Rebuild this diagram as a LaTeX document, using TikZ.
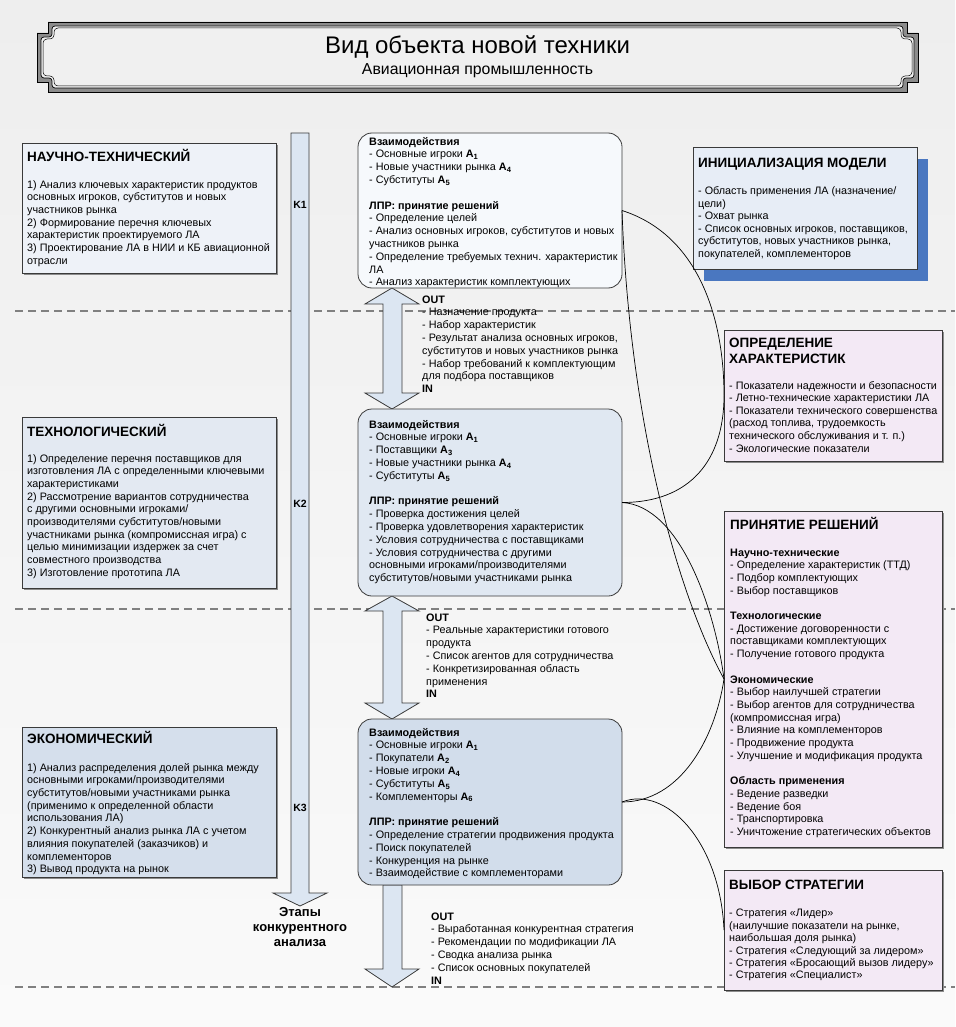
\documentclass[tikz,border=0pt]{standalone}
\usepackage{fontspec}
\setmainfont{Liberation Sans}
\usetikzlibrary{shadows}
\definecolor{bordc}{HTML}{3A3A3A}
\definecolor{lbA}{HTML}{EEF2F8}
\definecolor{lbB}{HTML}{E3E9F2}
\definecolor{lbC}{HTML}{D5DFEC}
\definecolor{mbA}{HTML}{F6F9FC}
\definecolor{mbB}{HTML}{E0E8F2}
\definecolor{mbC}{HTML}{D2DDEB}
\definecolor{arrfill}{HTML}{DCE6F2}
\definecolor{initfill}{HTML}{E7EDF6}
\definecolor{initshadow}{HTML}{4A77C0}
\definecolor{pinkfill}{HTML}{F3E9F5}
\definecolor{dashc}{HTML}{808080}
\definecolor{bandc}{HTML}{8C8C8C}
\definecolor{bgtop}{HTML}{EEEEEE}
\definecolor{bgbot}{HTML}{FAFAFA}
\definecolor{framebg}{HTML}{F0F0F0}
\tikzset{
  boxshape/.style={draw=bordc, line width=0.8pt, inner sep=0pt, outer sep=0pt, anchor=north west},
  lshadow/.style={drop shadow={shadow xshift=2pt, shadow yshift=-2pt, fill=black!45, opacity=1}},
  body/.style={inner sep=0pt, anchor=north west, align=left, font=\fontsize{10.8}{12.7}\selectfont},
  bodyB/.style={inner sep=0pt, anchor=north west, align=left, font=\fontsize{10.8}{12.8}\selectfont},
  head/.style={inner sep=0pt, anchor=base west, font=\bfseries\fontsize{13.5}{16}\selectfont},
  klabel/.style={inner sep=0pt, font=\bfseries\fontsize{10.5}{12}\selectfont},
  conn/.style={draw=black, line width=0.7pt},
  sepline/.style={draw=dashc, line width=1.3pt, dash pattern=on 8pt off 5pt},
  bigarrow/.style={fill=arrfill, draw=bordc, line width=0.8pt, line join=miter},
}
\newcommand{\Ab}[1]{\textbf{A\textsubscript{#1}}}
\begin{document}
\begin{tikzpicture}[x=1pt,y=-1pt]
\useasboundingbox (0,0) rectangle (955,1027);
\shade[top color=bgtop, bottom color=bgbot] (0,0) rectangle (955,1027);

% separators
\draw[sepline] (15,311) -- (955,311);
\draw[sepline] (15,609) -- (955,609);
\draw[sepline] (15,987) -- (955,987);

% title frame
\filldraw[fill=bandc, draw=black, line width=0.8pt]
  (48,22) -- (907,22) -- (907,33) -- (918,33) -- (918,82) -- (907,82) -- (907,92)
  -- (48,92) -- (48,82) -- (37,82) -- (37,33) -- (48,33) -- cycle;
\filldraw[fill=framebg, draw=black, line width=0.7pt, rounded corners=3pt]
  (52,26) -- (903,26) -- (903,37) -- (914,37) -- (914,78) -- (903,78) -- (903,88)
  -- (52,88) -- (52,78) -- (41,78) -- (41,37) -- (52,37) -- cycle;
\draw[black, line width=0.5pt, rounded corners=4pt]
  (54,28) -- (901,28) -- (901,39) -- (912,39) -- (912,76) -- (901,76) -- (901,86)
  -- (54,86) -- (54,76) -- (43,76) -- (43,39) -- (54,39) -- cycle;
\node[inner sep=0pt, font=\fontsize{24}{27}\selectfont] (title) at (477.5,47) {Вид объекта новой техники};
\node[inner sep=0pt, font=\fontsize{15.8}{18}\selectfont] (subtitle) at (477.5,70.5) {Авиационная промышленность};

% stage arrow
\draw[bigarrow] (291,133) -- (309,133) -- (309,893) -- (327,893) -- (300,906) -- (273,893) -- (291,893) -- cycle;
\node[klabel] (k1) at (300,205) {K1};
\node[klabel] (k2) at (300,504) {K2};
\node[klabel] (k3) at (300,808) {K3};
\node[inner sep=0pt, anchor=north, align=center, font=\bfseries\fontsize{13}{15}\selectfont] (etapy) at (300,906)
  {\strut Этапы\\конкурентного\\анализа};

% middle arrows
\draw[bigarrow] (392,288) -- (419,304) -- (402,304) -- (402,393) -- (419,393) -- (392,409)
  -- (365,393) -- (383,393) -- (383,304) -- (365,304) -- cycle;
\draw[bigarrow] (392,596) -- (419,611) -- (402,611) -- (402,703) -- (419,703) -- (392,719)
  -- (365,703) -- (383,703) -- (383,611) -- (365,611) -- cycle;
\draw[bigarrow] (383,885) -- (402,885) -- (402,969) -- (419,969) -- (392,987) -- (365,969) -- (383,969) -- cycle;

% left boxes
\node[boxshape, lshadow, fill=lbA, minimum width=254pt, minimum height=130pt] (nt) at (22,143) {};
\node[head] (nt-h) at (27,161.8) {НАУЧНО-ТЕХНИЧЕСКИЙ};
\node[body] (nt-b) at (27,179) {\strut 1) Анализ ключевых характеристик продуктов\\
основных игроков, субститутов и новых\\
участников рынка\\
2) Формирование перечня ключевых\\
характеристик проектируемого ЛА\\
3) Проектирование ЛА в НИИ и КБ авиационной\\
отрасли};

\node[boxshape, lshadow, fill=lbB, minimum width=254pt, minimum height=171pt] (tc) at (22,417) {};
\node[head] (tc-h) at (27,436.8) {ТЕХНОЛОГИЧЕСКИЙ};
\node[body] (tc-b) at (27,453) {\strut 1) Определение перечня поставщиков для\\
изготовления ЛА с определенными ключевыми\\
характеристиками\\
2) Рассмотрение вариантов сотрудничества\\
с другими основными игроками/\\
производителями субститутов/новыми\\
участниками рынка (компромиссная игра) с\\
целью минимизации издержек за счет\\
совместного производства\\
3) Изготовление прототипа ЛА};

\node[boxshape, lshadow, fill=lbC, minimum width=254pt, minimum height=150pt] (ec) at (22,727) {};
\node[head] (ec-h) at (27,743.8) {ЭКОНОМИЧЕСКИЙ};
\node[body] (ec-b) at (27,762) {\strut 1) Анализ распределения долей рынка между\\
основными игроками/производителями\\
субститутов/новыми участниками рынка\\
(применимо к определенной области\\
использования ЛА)\\
2) Конкурентный анализ рынка ЛА с учетом\\
влияния покупателей (заказчиков) и\\
комплементоров\\
3) Вывод продукта на рынок};

% middle boxes
\node[boxshape, rounded corners=14pt, fill=mbA, minimum width=264pt, minimum height=155pt] (b1) at (358,133) {};
\node[bodyB] (b1-t) at (369,136) {\strut\textbf{Взаимодействия}\\
- Основные игроки \Ab{1}\\
- Новые участники рынка \Ab{4}\\
- Субституты \Ab{5}\\[12.8pt]
\textbf{ЛПР: принятие решений}\\
- Определение целей\\
- Анализ основных игроков, субститутов и новых\\
участников рынка\\
- Определение требуемых технич. характеристик\\
ЛА\\
- Анализ характеристик комплектующих};

\node[boxshape, rounded corners=14pt, fill=mbB, minimum width=264pt, minimum height=187pt] (b2) at (358,409) {};
\node[bodyB] (b2-t) at (369,419) {\strut\textbf{Взаимодействия}\\
- Основные игроки \Ab{1}\\
- Поставщики \Ab{3}\\
- Новые участники рынка \Ab{4}\\
- Субституты \Ab{5}\\[12.8pt]
\textbf{ЛПР: принятие решений}\\
- Проверка достижения целей\\
- Проверка удовлетворения характеристик\\
- Условия сотрудничества с поставщиками\\
- Условия сотрудничества с другими\\
основными игроками/производителями\\
субститутов/новыми участниками рынка};

\node[boxshape, rounded corners=14pt, fill=mbC, minimum width=264pt, minimum height=166pt] (b3) at (358,719) {};
\node[bodyB] (b3-t) at (369,727) {\strut\textbf{Взаимодействия}\\
- Основные игроки \Ab{1}\\
- Покупатели \Ab{2}\\
- Новые игроки \Ab{4}\\
- Субституты \Ab{5}\\
- Комплементоры \Ab{6}\\[12.8pt]
\textbf{ЛПР: принятие решений}\\
- Определение стратегии продвижения продукта\\
- Поиск покупателей\\
- Конкуренция на рынке\\
- Взаимодействие с комплементорами};

% OUT / IN blocks
\node[bodyB] (io1) at (422,294) {\strut\textbf{OUT}\\
- Назначение продукта\\
- Набор характеристик\\
- Результат анализа основных игроков,\\
субститутов и новых участников рынка\\
- Набор требований к комплектующим\\
для подбора поставщиков\\
\textbf{IN}};
\node[bodyB] (io2) at (426,612) {\strut\textbf{OUT}\\
- Реальные характеристики готового\\
продукта\\
- Список агентов для сотрудничества\\
- Конкретизированная область\\
применения\\
\textbf{IN}};
\node[bodyB] (io3) at (431,911) {\strut\textbf{OUT}\\
- Выработанная конкурентная стратегия\\
- Рекомендации по модификации ЛА\\
- Сводка анализа рынка\\
- Список основных покупателей\\
\textbf{IN}};

% right boxes
\node[boxshape, fill=initfill, drop shadow={shadow xshift=11pt, shadow yshift=-12pt, fill=initshadow, opacity=1}, minimum width=224pt, minimum height=122pt] (ini) at (693,147) {};
\node[head] (ini-h) at (698,167.8) {ИНИЦИАЛИЗАЦИЯ МОДЕЛИ};
\node[body, font=\fontsize{10.8}{12.5}\selectfont] (ini-b) at (698,186) {\strut - Область применения ЛА (назначение/\\
цели)\\
- Охват рынка\\
- Список основных игроков, поставщиков,\\
субститутов, новых участников рынка,\\
покупателей, комплементоров};

\node[boxshape, lshadow, fill=pinkfill, minimum width=218pt, minimum height=131pt] (opr) at (724,330) {};
\node[inner sep=0pt, anchor=north west, align=left, font=\bfseries\fontsize{13.5}{16}\selectfont] (opr-h) at (729,335.6) {\strut ОПРЕДЕЛЕНИЕ\\ХАРАКТЕРИСТИК};
\node[body, font=\fontsize{10.8}{12.6}\selectfont] (opr-b) at (729,380) {\strut - Показатели надежности и безопасности\\
- Летно-технические характеристики ЛА\\
- Показатели технического совершенства\\
(расход топлива, трудоемкость\\
технического обслуживания и т. п.)\\
- Экологические показатели};

\node[boxshape, lshadow, fill=pinkfill, minimum width=218pt, minimum height=336pt] (pr) at (724,511) {};
\node[head] (pr-h) at (730,529.8) {ПРИНЯТИЕ РЕШЕНИЙ};
\node[body] (pr-b) at (730,547) {\strut\textbf{Научно-технические}\\
- Определение характеристик (ТТД)\\
- Подбор комплектующих\\
- Выбор поставщиков\\[12.7pt]
\textbf{Технологические}\\
- Достижение договоренности с\\
поставщиками комплектующих\\
- Получение готового продукта\\[12.7pt]
\textbf{Экономические}\\
- Выбор наилучшей стратегии\\
- Выбор агентов для сотрудничества\\
(компромиссная игра)\\
- Влияние на комплементоров\\
- Продвижение продукта\\
- Улучшение и модификация продукта\\[12.7pt]
\textbf{Область применения}\\
- Ведение разведки\\
- Ведение боя\\
- Транспортировка\\
- Уничтожение стратегических объектов};

\node[boxshape, lshadow, fill=pinkfill, minimum width=218pt, minimum height=120pt] (vy) at (724,870) {};
\node[head] (vy-h) at (729,889.8) {ВЫБОР СТРАТЕГИИ};
\node[body, font=\fontsize{10.8}{12.4}\selectfont] (vy-b) at (729,908) {\strut - Стратегия «Лидер»\\
(наилучшие показатели на рынке,\\
наибольшая доля рынка)\\
- Стратегия «Следующий за лидером»\\
- Стратегия «Бросающий вызов лидеру»\\
- Стратегия «Специалист»};

% connectors
\draw[conn] (b1.east) .. controls +(78,25) and +(0,-75) .. (opr.west);
\draw[conn] (b2.east) .. controls +(68,0) and +(0,65) .. (opr.west);
\draw[conn] (b1.east) .. controls +(8,220) and +(-44,-80) .. (pr.west);
\draw[conn] (b2.east) .. controls +(58,3) and +(-9,-70) .. (pr.west);
\draw[conn] (b3.east) .. controls +(58,0) and +(-9,60) .. (pr.west);
\draw[conn] (b3.east) .. controls +(43,-17) and +(-4,-90) .. (vy.west);
\end{tikzpicture}
\end{document}
